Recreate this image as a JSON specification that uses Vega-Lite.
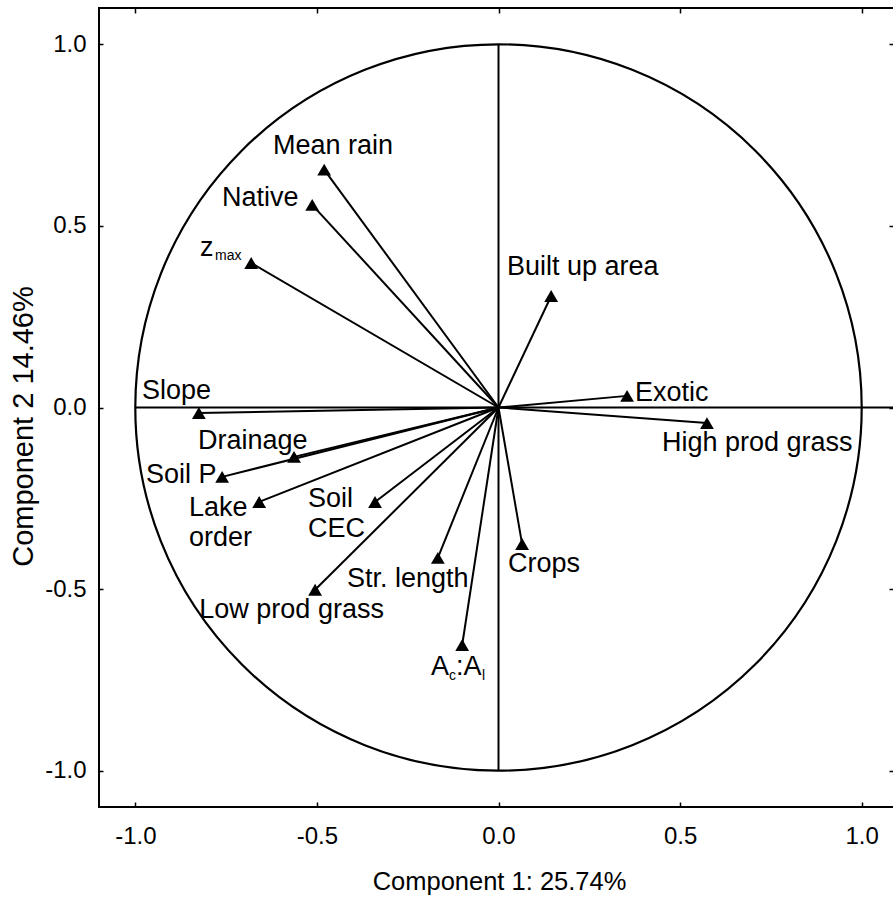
{
  "$schema": "https://vega.github.io/schema/vega-lite/v6.json",
  "width": 799,
  "height": 799,
  "autosize": {"type": "none"},
  "padding": {"left": 99, "top": 8, "right": -5, "bottom": 101},
  "background": "white",
  "config": {
    "font": "Liberation Sans",
    "view": {"stroke": "black", "strokeWidth": 2},
    "axis": {"grid": false, "domain": false, "tickColor": "black", "tickWidth": 1.5, "labelColor": "black", "titleColor": "black", "labelFont": "Liberation Sans", "titleFont": "Liberation Sans", "titleFontWeight": "normal"}
  },
  "datasets": {
    "loadings": [
      {"v": "Mean rain", "x": -0.480, "y": 0.655},
      {"v": "Native", "x": -0.513, "y": 0.558},
      {"v": "z_max", "x": -0.681, "y": 0.398},
      {"v": "Built up area", "x": 0.145, "y": 0.307},
      {"v": "Exotic", "x": 0.354, "y": 0.032},
      {"v": "High prod grass", "x": 0.574, "y": -0.043},
      {"v": "Slope", "x": -0.825, "y": -0.015},
      {"v": "Drainage", "x": -0.563, "y": -0.136},
      {"v": "Soil P", "x": -0.761, "y": -0.191},
      {"v": "Lake order", "x": -0.659, "y": -0.260},
      {"v": "Soil CEC", "x": -0.340, "y": -0.260},
      {"v": "Str. length", "x": -0.167, "y": -0.414},
      {"v": "Low prod grass", "x": -0.505, "y": -0.502},
      {"v": "Crops", "x": 0.065, "y": -0.376},
      {"v": "Ac:Al", "x": -0.100, "y": -0.654}
    ],
    "frame": [
      {"x": -1, "x2": 1.1, "y": 0, "y2": 0},
      {"x": 0, "x2": 0, "y": -1, "y2": 1}
    ],
    "origin": [{"x": 0, "y": 0}],
    "labels": [
      {"t": "Mean rain", "lx": -0.6209, "ly": 0.6980},
      {"t": "Native", "lx": -0.7613, "ly": 0.5548},
      {"t": "z", "lx": -0.8219, "ly": 0.4171},
      {"t": "Built up area", "lx": 0.0234, "ly": 0.3662},
      {"t": "Exotic", "lx": 0.3758, "ly": 0.0179},
      {"t": "High prod grass", "lx": 0.4502, "ly": -0.1198},
      {"t": "Slope", "lx": -0.9816, "ly": 0.0234},
      {"t": "Drainage", "lx": -0.8274, "ly": -0.1143},
      {"t": "Soil P", "lx": -0.9705, "ly": -0.2078},
      {"t": "Lake\norder", "lx": -0.8522, "ly": -0.2974},
      {"t": "Soil\nCEC", "lx": -0.5245, "ly": -0.2731},
      {"t": "Str. length", "lx": -0.4171, "ly": -0.4934},
      {"t": "Low prod grass", "lx": -0.8238, "ly": -0.5796},
      {"t": "Crops", "lx": 0.0262, "ly": -0.4521},
      {"t": "A", "lx": -0.1858, "ly": -0.7365},
      {"t": ":A", "lx": -0.1170, "ly": -0.7365}
    ],
    "subs": [
      {"t": "max", "lx": -0.7806, "ly": 0.4075},
      {"t": "c", "lx": -0.1363, "ly": -0.7503},
      {"t": "l", "lx": -0.0454, "ly": -0.7503}
    ]
  },
  "resolve": {"axis": {"x": "independent", "y": "independent"}},
  "layer": [
    {
      "data": {"name": "frame"},
      "mark": {"type": "rule", "color": "black", "strokeWidth": 2},
      "encoding": {
        "x": {"field": "x", "type": "quantitative", "scale": {"domain": [-1.1, 1.1], "nice": false, "zero": false},
          "axis": {"orient": "bottom", "values": [-1, -0.5, 0, 0.5, 1], "labelExpr": "replace(format(datum.value, '.1f'), '\u2212', '-')", "tickSize": -5, "labelPadding": 41, "labelBaseline": "alphabetic", "labelFontSize": 24, "labelFlush": false, "title": "Component 1: 25.74%", "titleFontSize": 25.5, "titleX": 400, "titleY": 82, "titleBaseline": "alphabetic", "titleAlign": "center"}},
        "x2": {"field": "x2"},
        "y": {"field": "y", "type": "quantitative", "scale": {"domain": [-1.1, 1.1], "nice": false, "zero": false},
          "axis": {"orient": "left", "values": [-1, -0.5, 0, 0.5, 1], "labelExpr": "replace(format(datum.value, '.1f'), '\u2212', '-')", "tickSize": -4, "labelPadding": 17, "labelFontSize": 24, "labelFlush": false, "title": "Component 2 14.46%", "titleFontSize": 29, "titleX": -76, "titleY": 418, "titleAngle": 270, "titleAlign": "center", "titleBaseline": "middle"}},
        "y2": {"field": "y2"}
      }
    },
    {
      "data": {"name": "origin"},
      "mark": {"type": "point", "shape": "circle", "filled": false, "size": 527660, "stroke": "black", "strokeWidth": 2.2, "opacity": 1},
      "encoding": {
        "x": {"field": "x", "type": "quantitative", "scale": {"domain": [-1.1, 1.1], "nice": false, "zero": false},
          "axis": {"orient": "top", "values": [-1, -0.5, 0, 0.5, 1], "labels": false, "tickSize": -5, "title": null}},
        "y": {"field": "y", "type": "quantitative", "scale": {"domain": [-1.1, 1.1], "nice": false, "zero": false},
          "axis": {"orient": "right", "values": [-1, -0.5, 0, 0.5, 1], "labels": false, "tickSize": -9, "title": null}}
      }
    },
    {
      "data": {"name": "loadings"},
      "mark": {"type": "rule", "color": "black", "strokeWidth": 2},
      "encoding": {
        "x": {"field": "x", "type": "quantitative", "scale": {"domain": [-1.1, 1.1], "nice": false, "zero": false}, "axis": null},
        "y": {"field": "y", "type": "quantitative", "scale": {"domain": [-1.1, 1.1], "nice": false, "zero": false}, "axis": null},
        "x2": {"datum": 0},
        "y2": {"datum": 0}
      }
    },
    {
      "data": {"name": "loadings"},
      "mark": {"type": "point", "shape": "triangle-up", "filled": true, "size": 190, "color": "black", "opacity": 1},
      "encoding": {
        "x": {"field": "x", "type": "quantitative", "scale": {"domain": [-1.1, 1.1], "nice": false, "zero": false}, "axis": null},
        "y": {"field": "y", "type": "quantitative", "scale": {"domain": [-1.1, 1.1], "nice": false, "zero": false}, "axis": null}
      }
    },
    {
      "data": {"name": "labels"},
      "mark": {"type": "text", "align": "left", "baseline": "alphabetic", "fontSize": 27, "lineBreak": "\n", "lineHeight": 30, "color": "black", "font": "Liberation Sans"},
      "encoding": {
        "x": {"field": "lx", "type": "quantitative", "scale": {"domain": [-1.1, 1.1], "nice": false, "zero": false}, "axis": null},
        "y": {"field": "ly", "type": "quantitative", "scale": {"domain": [-1.1, 1.1], "nice": false, "zero": false}, "axis": null},
        "text": {"field": "t"}
      }
    },
    {
      "data": {"name": "subs"},
      "mark": {"type": "text", "align": "left", "baseline": "alphabetic", "fontSize": 14, "color": "black", "font": "Liberation Sans"},
      "encoding": {
        "x": {"field": "lx", "type": "quantitative", "scale": {"domain": [-1.1, 1.1], "nice": false, "zero": false}, "axis": null},
        "y": {"field": "ly", "type": "quantitative", "scale": {"domain": [-1.1, 1.1], "nice": false, "zero": false}, "axis": null},
        "text": {"field": "t"}
      }
    }
  ]
}
